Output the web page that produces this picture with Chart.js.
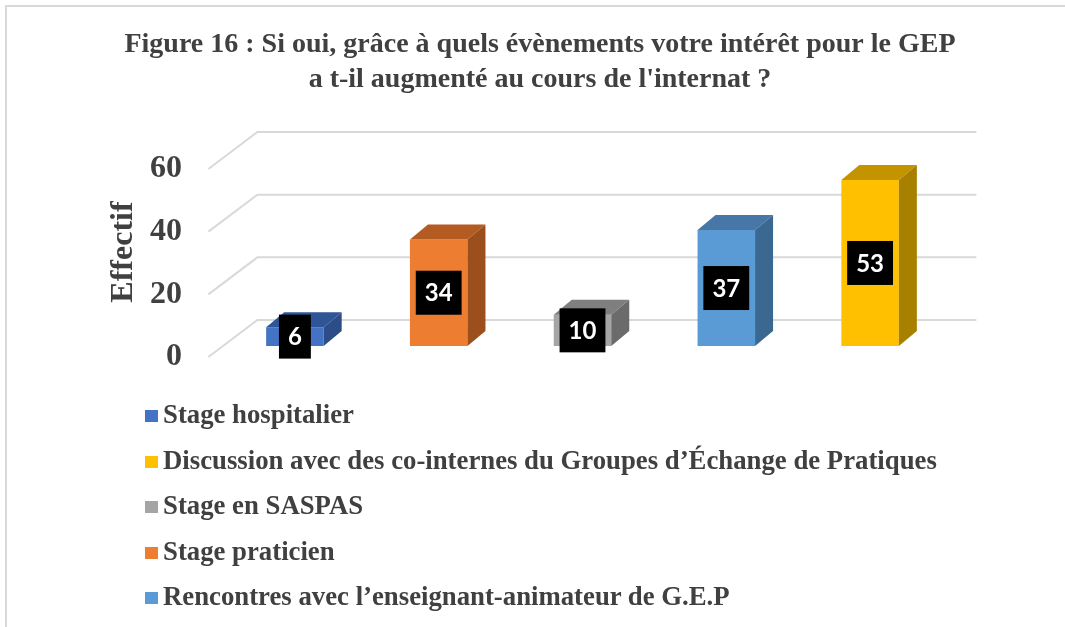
<!DOCTYPE html>
<html lang="fr">
<head>
<meta charset="utf-8">
<title>Figure 16</title>
<script src="https://cdn.jsdelivr.net/npm/chart.js@4.4.1/dist/chart.umd.min.js"></script>
<style>
  html, body { margin: 0; padding: 0; background: #fff; }
  body { width: 1065px; height: 627px; position: relative; overflow: hidden; }
  .frame { position: absolute; left: 5px; top: 5px; width: 1070px; height: 640px;
           border-top: 2px solid #d9d9d9; border-left: 2px solid #d9d9d9; }
  #chartBox { position: absolute; left: 0; top: 0; width: 1065px; height: 627px; }
  #legend { position: absolute; left: 145px; top: 392px; font: bold 26.75px "Liberation Serif", "Times New Roman", serif;
            color: #404040; }
  #legend .item { height: 45.5px; line-height: 45.5px; white-space: nowrap; }
  #legend .box { display: inline-block; width: 13px; height: 12px; margin-right: 5px; vertical-align: 1px; }
</style>
</head>
<body>
<div class="frame"></div>
<div id="chartBox"><canvas id="chart" width="1065" height="627"></canvas></div>
<div id="legend"></div>
<script>
// donnees (ordre des barres de gauche a droite)
const categories = [
  'Stage hospitalier',
  'Stage praticien',
  'Stage en SASPAS',
  'Rencontres avec l\u2019enseignant-animateur de G.E.P',
  'Discussion avec des co-internes du Groupes d\u2019\u00c9change de Pratiques'
];
const values = [6, 34, 10, 37, 53];
const frontColors = ['#4472c4', '#ed7d31', '#a5a5a5', '#5b9bd5', '#ffc000'];
const topColors = ['#2f5597', '#b45b22', '#7f7f7f', '#4677a6', '#c49300'];
const sideColors = ['#2c4d87', '#9a4f1c', '#6b6b6b', '#3b6890', '#a88000'];
// ordre de la legende
const legendOrder = [0, 4, 2, 1, 3];
const yTicks = [0, 20, 40, 60];

const TEXT = '#404040';
const SERIF = '"Liberation Serif", "Times New Roman", serif';

// profondeur 3D
const BAR_DX = 18, BAR_DY = -15;
const FRONT_DX = -14.6, FRONT_DY = 11;
const BACK_DX = 34.4, BACK_DY = -26;

const datasets = legendOrder.map(i => ({
  label: categories[i],
  data: [{ x: categories[i], y: values[i] }],
  backgroundColor: frontColors[i],
  topColor: topColors[i],
  sideColor: sideColors[i],
  borderWidth: 0,
  grouped: false,
  barPercentage: 0.4,
  categoryPercentage: 1
}));

const bars3d = {
  id: 'bars3d',
  beforeDatasetsDraw(chart) {
    const ctx = chart.ctx;
    const y = chart.scales.y;
    const area = chart.chartArea;
    ctx.save();
    ctx.strokeStyle = '#d9d9d9';
    ctx.lineWidth = 2;
    yTicks.forEach(v => {
      const py = y.getPixelForValue(v);
      ctx.beginPath();
      ctx.moveTo(area.left + FRONT_DX, py + FRONT_DY);
      ctx.lineTo(area.left + BACK_DX, py + BACK_DY);
      ctx.lineTo(area.right + BACK_DX, py + BACK_DY);
      ctx.stroke();
    });
    ctx.restore();
  },
  afterDatasetsDraw(chart) {
    const ctx = chart.ctx;
    ctx.save();
    chart.data.datasets.forEach((ds, i) => {
      const bar = chart.getDatasetMeta(i).data[0];
      const l = bar.x - bar.width / 2, r = bar.x + bar.width / 2;
      // dessus
      ctx.fillStyle = ds.topColor;
      ctx.beginPath();
      ctx.moveTo(l, bar.y);
      ctx.lineTo(l + BAR_DX, bar.y + BAR_DY);
      ctx.lineTo(r + BAR_DX, bar.y + BAR_DY);
      ctx.lineTo(r, bar.y);
      ctx.closePath();
      ctx.fill();
      // cote droit
      ctx.fillStyle = ds.sideColor;
      ctx.beginPath();
      ctx.moveTo(r, bar.y);
      ctx.lineTo(r + BAR_DX, bar.y + BAR_DY);
      ctx.lineTo(r + BAR_DX, bar.base + BAR_DY);
      ctx.lineTo(r, bar.base);
      ctx.closePath();
      ctx.fill();
    });
    // etiquettes
    ctx.font = 'bold 24px Lato, "Liberation Sans", sans-serif';
    ctx.textAlign = 'center';
    ctx.textBaseline = 'middle';
    chart.data.datasets.forEach((ds, i) => {
      const bar = chart.getDatasetMeta(i).data[0];
      const txt = String(ds.data[0].y);
      const w = ctx.measureText(txt).width + 18;
      const h = 44;
      const cy = (bar.y + bar.base) / 2;
      ctx.fillStyle = '#000';
      ctx.fillRect(bar.x - w / 2, cy - h / 2, w, h);
      ctx.fillStyle = '#fff';
      ctx.fillText(txt, bar.x, cy + 1);
    });
    ctx.restore();
  }
};

const chart = new Chart(document.getElementById('chart'), {
  type: 'bar',
  data: { labels: categories, datasets: datasets },
  options: {
    responsive: false,
    animation: false,
    layout: { padding: { top: 0, right: 0, bottom: 281, left: 15 } },
    plugins: {
      legend: { display: false },
      tooltip: { enabled: false },
      title: {
        display: true,
        text: ['Figure 16 : Si oui, gr\u00e2ce \u00e0 quels \u00e9v\u00e8nements votre int\u00e9r\u00eat pour le GEP',
               'a t-il augment\u00e9 au cours de l\'internat ?'],
        color: TEXT,
        font: { family: SERIF, size: 28, weight: 'bold', lineHeight: 1.25 },
        padding: { top: 27.5, bottom: 60.5 }
      }
    },
    scales: {
      x: { display: false },
      y: {
        min: 0,
        max: 60,
        afterFit(scale) { scale.width = 208; },
        afterBuildTicks(scale) { scale.ticks = yTicks.map(v => ({ value: v })); },
        grid: { display: false },
        border: { display: false },
        ticks: {
          color: TEXT,
          padding: 33,
          labelOffset: 11,
          font: { family: SERIF, size: 32, weight: 'bold' }
        },
        title: {
          display: true,
          text: 'Effectif',
          color: TEXT,
          font: { family: SERIF, size: 32, weight: 'bold', lineHeight: 1.2 },
          padding: { top: 90, bottom: 0 }
        }
      },
      // axe vide a droite pour garder la place de la profondeur
      yRight: {
        position: 'right',
        afterFit(scale) { scale.width = 123; },
        grid: { display: false },
        border: { display: false },
        ticks: { display: false }
      }
    }
  },
  plugins: [bars3d]
});

// legende HTML
const legendEl = document.getElementById('legend');
chart.data.datasets.forEach(ds => {
  const row = document.createElement('div');
  row.className = 'item';
  const box = document.createElement('span');
  box.className = 'box';
  box.style.background = ds.backgroundColor;
  row.appendChild(box);
  row.appendChild(document.createTextNode(ds.label));
  legendEl.appendChild(row);
});
</script>
</body>
</html>
